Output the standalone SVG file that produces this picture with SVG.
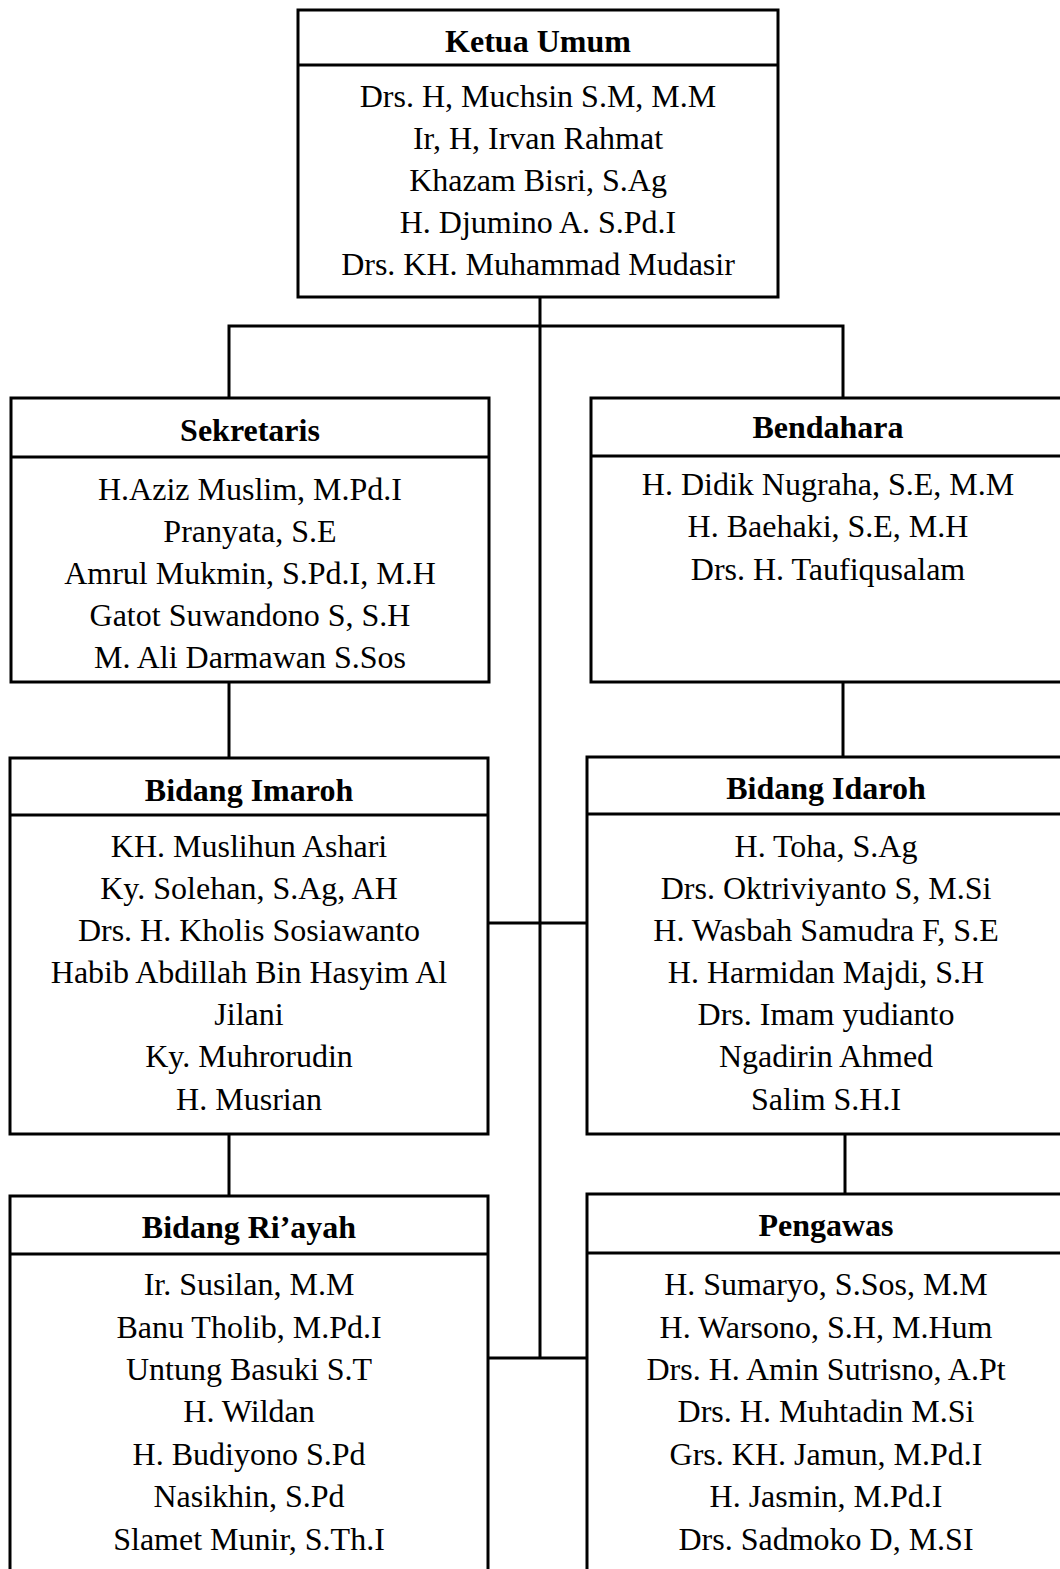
<svg xmlns="http://www.w3.org/2000/svg" width="1060" height="1569" viewBox="0 0 1060 1569">
<style>
.box{fill:#fff;stroke:#000;stroke-width:3}
.div{stroke:#000;stroke-width:3}
.con{fill:none;stroke:#000;stroke-width:3}
text{font-family:"Liberation Serif","Times New Roman",serif;font-size:32px;fill:#000;text-anchor:middle}
.h{font-weight:bold}
</style>
<rect width="1060" height="1569" fill="#fff"/>
<g id="connectors">
<path class="con" d="M540,297 V1358"/>
<path class="con" d="M229,398 V326 H843 V398"/>
<path class="con" d="M229,682 V758"/>
<path class="con" d="M843,682 V757"/>
<path class="con" d="M488,923 H587"/>
<path class="con" d="M229,1134 V1196"/>
<path class="con" d="M845,1134 V1194"/>
<path class="con" d="M488,1358 H587"/>
</g>
<g id="ketua-umum">
<rect class="box" x="298" y="10" width="480" height="287"/>
<line class="div" x1="298" y1="65" x2="778" y2="65"/>
<text class="h" x="538" y="52">Ketua Umum</text>
<text x="538" y="107">Drs. H, Muchsin S.M, M.M</text>
<text x="538" y="149">Ir, H, Irvan Rahmat</text>
<text x="538" y="191">Khazam Bisri, S.Ag</text>
<text x="538" y="233">H. Djumino A. S.Pd.I</text>
<text x="538" y="275">Drs. KH. Muhammad Mudasir</text>
</g>
<g id="sekretaris">
<rect class="box" x="11" y="398" width="478" height="284"/>
<line class="div" x1="11" y1="457" x2="489" y2="457"/>
<text class="h" x="250" y="441">Sekretaris</text>
<text x="250" y="500">H.Aziz Muslim, M.Pd.I</text>
<text x="250" y="542">Pranyata, S.E</text>
<text x="250" y="584">Amrul Mukmin, S.Pd.I, M.H</text>
<text x="250" y="626">Gatot Suwandono S, S.H</text>
<text x="250" y="668">M. Ali Darmawan S.Sos</text>
</g>
<g id="bendahara">
<rect class="box" x="591" y="398" width="474" height="284"/>
<line class="div" x1="591" y1="456" x2="1065" y2="456"/>
<text class="h" x="828" y="438">Bendahara</text>
<text x="828" y="495">H. Didik Nugraha, S.E, M.M</text>
<text x="828" y="537">H. Baehaki, S.E, M.H</text>
<text x="828" y="580">Drs. H. Taufiqusalam</text>
</g>
<g id="bidang-imaroh">
<rect class="box" x="10" y="758" width="478" height="376"/>
<line class="div" x1="10" y1="815" x2="488" y2="815"/>
<text class="h" x="249" y="801">Bidang Imaroh</text>
<text x="249" y="857">KH. Muslihun Ashari</text>
<text x="249" y="899">Ky. Solehan, S.Ag, AH</text>
<text x="249" y="941">Drs. H. Kholis Sosiawanto</text>
<text x="249" y="983">Habib Abdillah Bin Hasyim Al</text>
<text x="249" y="1025">Jilani</text>
<text x="249" y="1067">Ky. Muhrorudin</text>
<text x="249" y="1110">H. Musrian</text>
</g>
<g id="bidang-idaroh">
<rect class="box" x="587" y="757" width="478" height="377"/>
<line class="div" x1="587" y1="814" x2="1065" y2="814"/>
<text class="h" x="826" y="799">Bidang Idaroh</text>
<text x="826" y="857">H. Toha, S.Ag</text>
<text x="826" y="899">Drs. Oktriviyanto S, M.Si</text>
<text x="826" y="941">H. Wasbah Samudra F, S.E</text>
<text x="826" y="983">H. Harmidan Majdi, S.H</text>
<text x="826" y="1025">Drs. Imam yudianto</text>
<text x="826" y="1067">Ngadirin Ahmed</text>
<text x="826" y="1110">Salim S.H.I</text>
</g>
<g id="bidang-riayah">
<rect class="box" x="10" y="1196" width="478" height="390"/>
<line class="div" x1="10" y1="1254" x2="488" y2="1254"/>
<text class="h" x="249" y="1238">Bidang Ri’ayah</text>
<text x="249" y="1295">Ir. Susilan, M.M</text>
<text x="249" y="1338">Banu Tholib, M.Pd.I</text>
<text x="249" y="1380">Untung Basuki S.T</text>
<text x="249" y="1422">H. Wildan</text>
<text x="249" y="1465">H. Budiyono S.Pd</text>
<text x="249" y="1507">Nasikhin, S.Pd</text>
<text x="249" y="1550">Slamet Munir, S.Th.I</text>
</g>
<g id="pengawas">
<rect class="box" x="587" y="1194" width="478" height="392"/>
<line class="div" x1="587" y1="1253" x2="1065" y2="1253"/>
<text class="h" x="826" y="1236">Pengawas</text>
<text x="826" y="1295">H. Sumaryo, S.Sos, M.M</text>
<text x="826" y="1338">H. Warsono, S.H, M.Hum</text>
<text x="826" y="1380">Drs. H. Amin Sutrisno, A.Pt</text>
<text x="826" y="1422">Drs. H. Muhtadin M.Si</text>
<text x="826" y="1465">Grs. KH. Jamun, M.Pd.I</text>
<text x="826" y="1507">H. Jasmin, M.Pd.I</text>
<text x="826" y="1550">Drs. Sadmoko D, M.SI</text>
</g>
</svg>
